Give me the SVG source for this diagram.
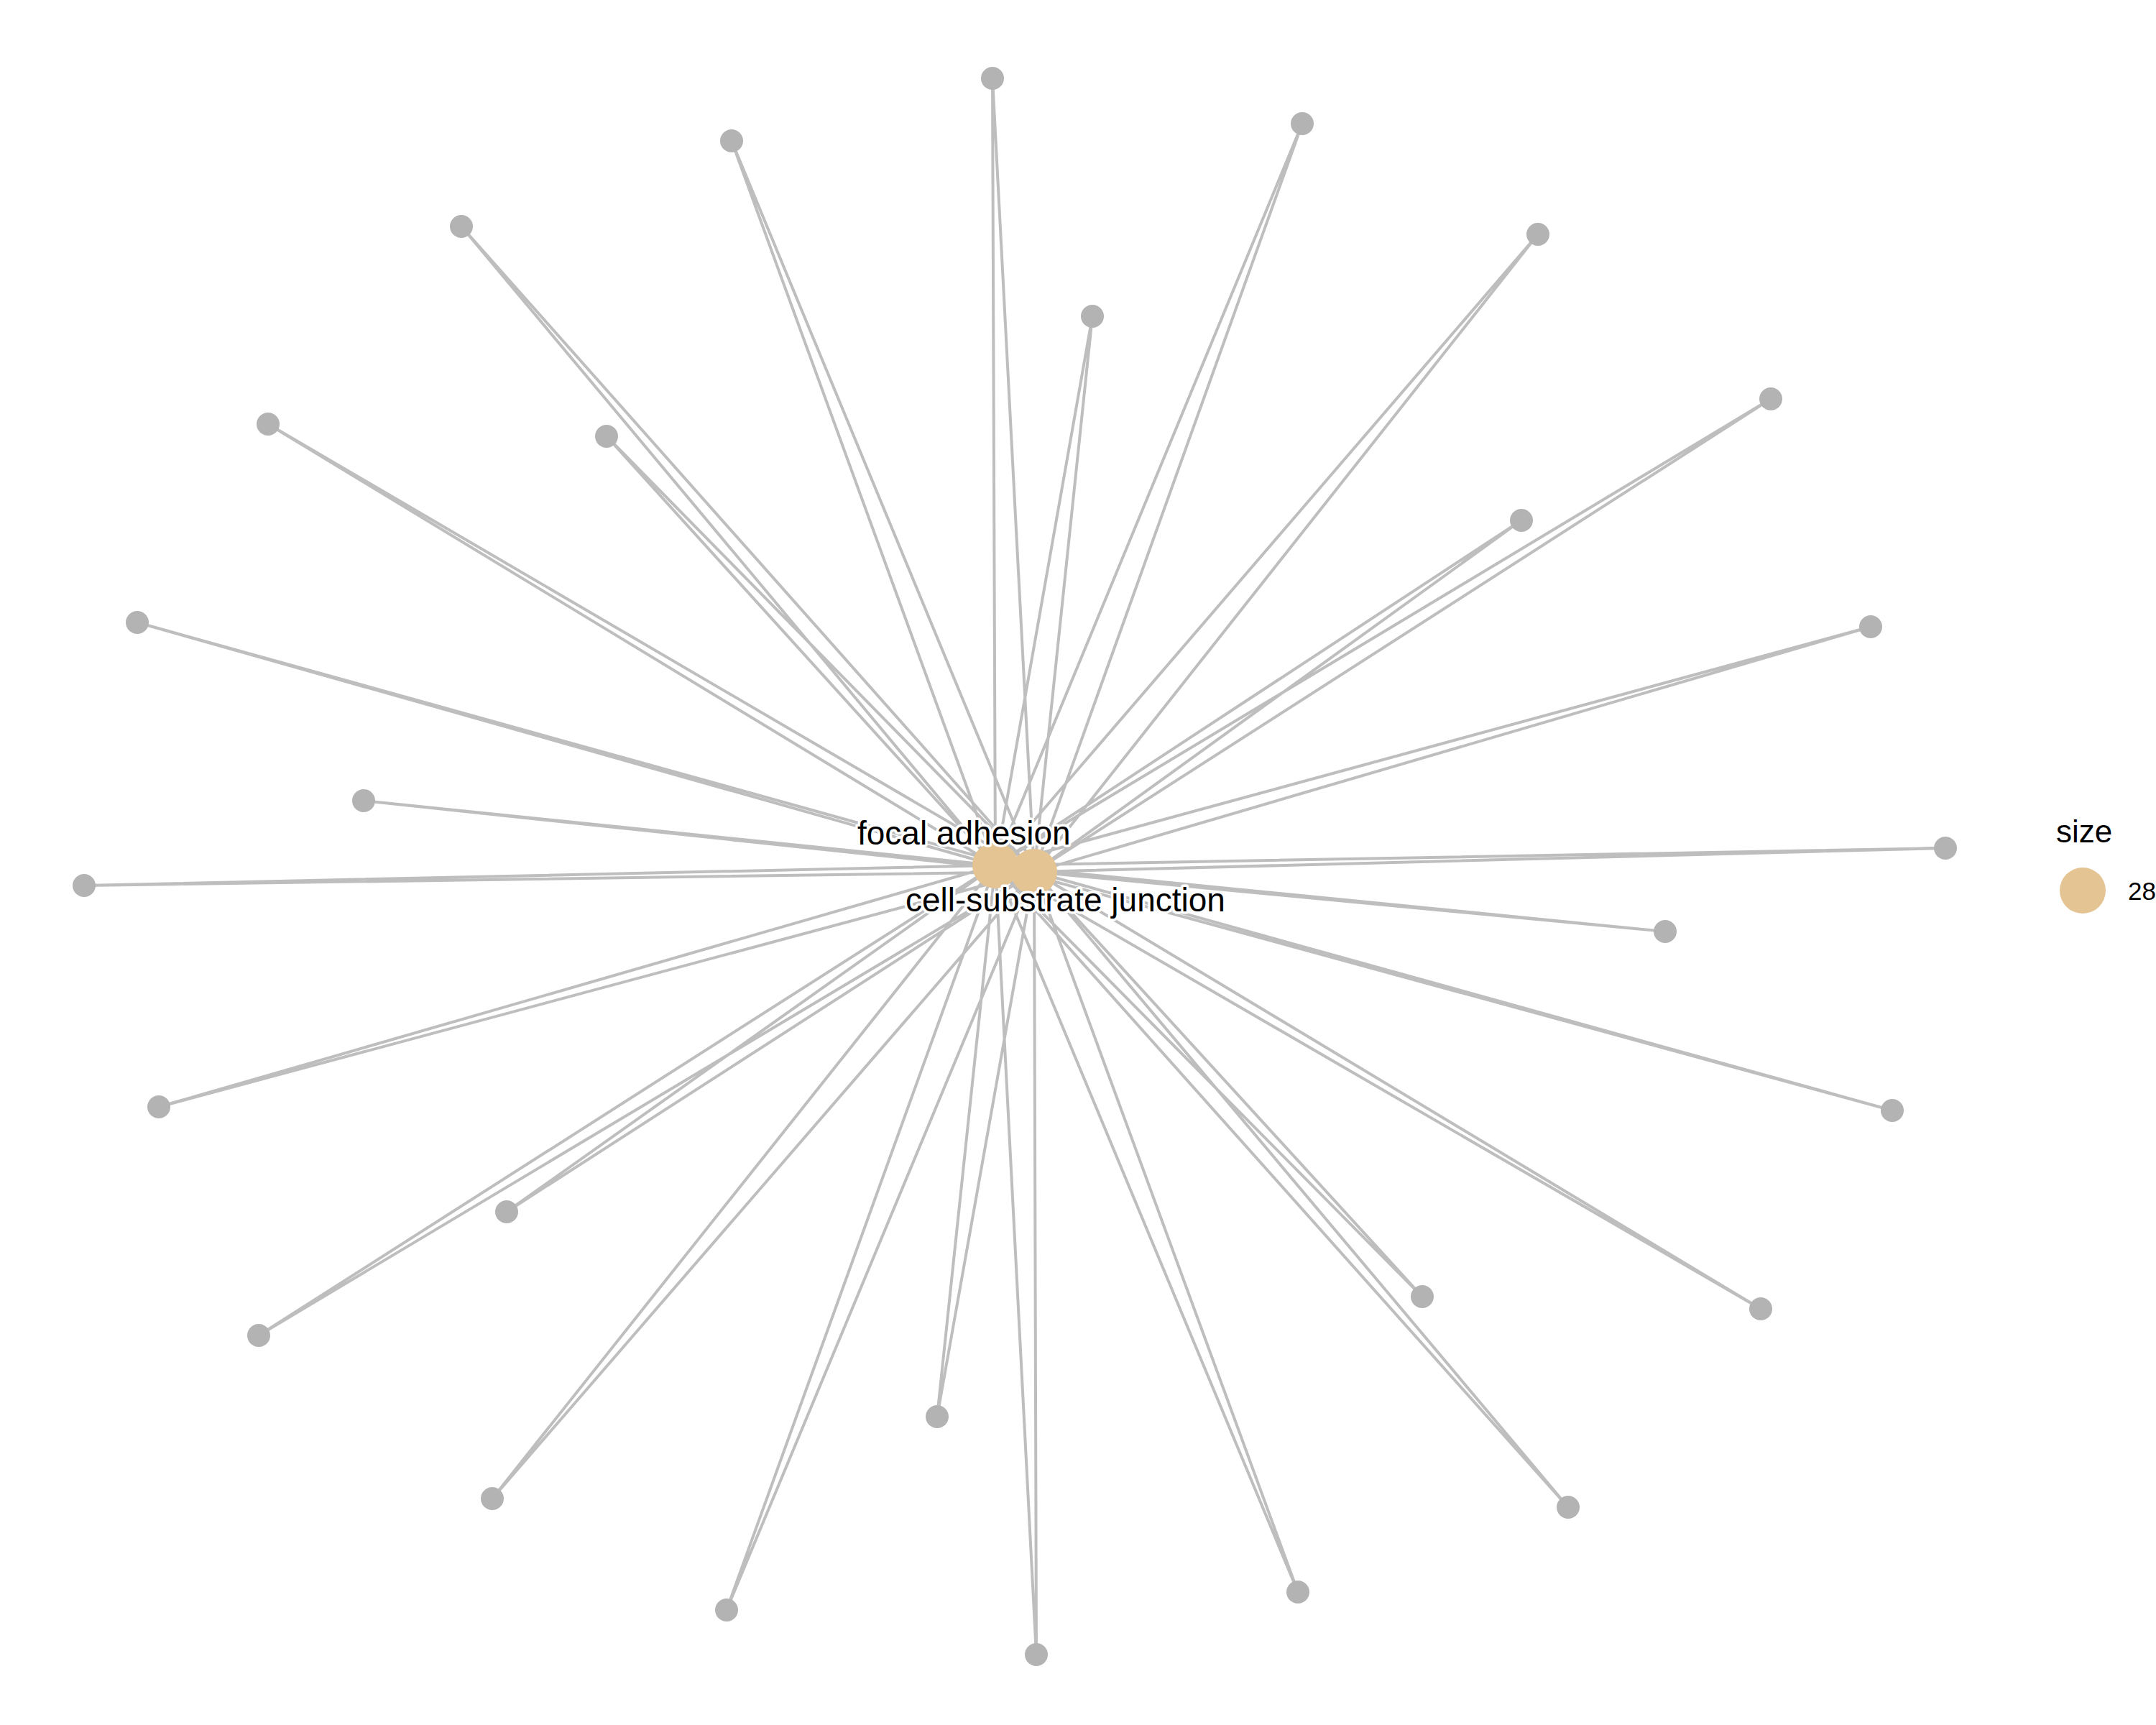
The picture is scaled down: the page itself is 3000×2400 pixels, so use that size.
<svg xmlns="http://www.w3.org/2000/svg" width="3000" height="2400" viewBox="0 0 3000 2400">
<style>
.e{stroke:#BEBEBE;stroke-width:4;fill:none}
.g{fill:#B3B3B3}
.t{fill:#E5C494}
.lab{font-family:"Liberation Sans",Arial,sans-serif;font-size:46px;fill:#000;stroke:#fff;stroke-width:7;stroke-linejoin:round;paint-order:stroke}
.leg{font-family:"Liberation Sans",Arial,sans-serif;fill:#000}
</style>
<rect width="3000" height="2400" fill="#fff"/>
<g id="edges">
<path class="e" d="M1381,109L1385,1204M1381,109L1439,1213
M1018,196L1385,1204M1018,196L1439,1213
M1812,172L1385,1204M1812,172L1439,1213
M642,315L1385,1204M642,315L1439,1213
M2140,326L1385,1204M2140,326L1439,1213
M1520,440L1385,1204M1520,440L1439,1213
M373,590L1385,1204M373,590L1439,1213
M844,607L1385,1204M844,607L1439,1213
M2464,555L1385,1204M2464,555L1439,1213
M2117,724L1385,1204M2117,724L1439,1213
M191,866L1385,1204M191,866L1439,1213
M2603,872L1385,1204M2603,872L1439,1213
M506,1114L1385,1204M506,1114L1439,1213
M117,1232L1385,1204M117,1232L1439,1213
M2707,1180L1385,1204M2707,1180L1439,1213
M2317,1296L1385,1204M2317,1296L1439,1213
M221,1540L1385,1204M221,1540L1439,1213
M2633,1545L1385,1204M2633,1545L1439,1213
M705,1686L1385,1204M705,1686L1439,1213
M360,1858L1385,1204M360,1858L1439,1213
M1979,1804L1385,1204M1979,1804L1439,1213
M2450,1821L1385,1204M2450,1821L1439,1213
M1304,1971L1385,1204M1304,1971L1439,1213
M685,2085L1385,1204M685,2085L1439,1213
M2182,2097L1385,1204M2182,2097L1439,1213
M1011,2240L1385,1204M1011,2240L1439,1213
M1806,2215L1385,1204M1806,2215L1439,1213
M1442,2302L1385,1204M1442,2302L1439,1213"/>
</g>
<g id="genes">
<circle class="g" cx="1381" cy="109" r="16"/>
<circle class="g" cx="1018" cy="196" r="16"/>
<circle class="g" cx="1812" cy="172" r="16"/>
<circle class="g" cx="642" cy="315" r="16"/>
<circle class="g" cx="2140" cy="326" r="16"/>
<circle class="g" cx="1520" cy="440" r="16"/>
<circle class="g" cx="373" cy="590" r="16"/>
<circle class="g" cx="844" cy="607" r="16"/>
<circle class="g" cx="2464" cy="555" r="16"/>
<circle class="g" cx="2117" cy="724" r="16"/>
<circle class="g" cx="191" cy="866" r="16"/>
<circle class="g" cx="2603" cy="872" r="16"/>
<circle class="g" cx="506" cy="1114" r="16"/>
<circle class="g" cx="117" cy="1232" r="16"/>
<circle class="g" cx="2707" cy="1180" r="16"/>
<circle class="g" cx="2317" cy="1296" r="16"/>
<circle class="g" cx="221" cy="1540" r="16"/>
<circle class="g" cx="2633" cy="1545" r="16"/>
<circle class="g" cx="705" cy="1686" r="16"/>
<circle class="g" cx="360" cy="1858" r="16"/>
<circle class="g" cx="1979" cy="1804" r="16"/>
<circle class="g" cx="2450" cy="1821" r="16"/>
<circle class="g" cx="1304" cy="1971" r="16"/>
<circle class="g" cx="685" cy="2085" r="16"/>
<circle class="g" cx="2182" cy="2097" r="16"/>
<circle class="g" cx="1011" cy="2240" r="16"/>
<circle class="g" cx="1806" cy="2215" r="16"/>
<circle class="g" cx="1442" cy="2302" r="16"/>
</g>
<g id="node-focal-adhesion">
<circle class="t" cx="1385" cy="1204" r="32"/>
</g>
<g id="node-cell-substrate-junction">
<circle class="t" cx="1439" cy="1213" r="32"/>
</g>
<g id="labels">
<text class="lab" x="1193" y="1175">focal adhesion</text>
<text class="lab" x="1260" y="1268">cell-substrate junction</text>
</g>
<g id="legend">
<text class="leg" x="2861" y="1172" font-size="44">size</text>
<circle class="t" cx="2898" cy="1239" r="32"/>
<text class="leg" x="2961" y="1252" font-size="35">28</text>
</g>
</svg>
